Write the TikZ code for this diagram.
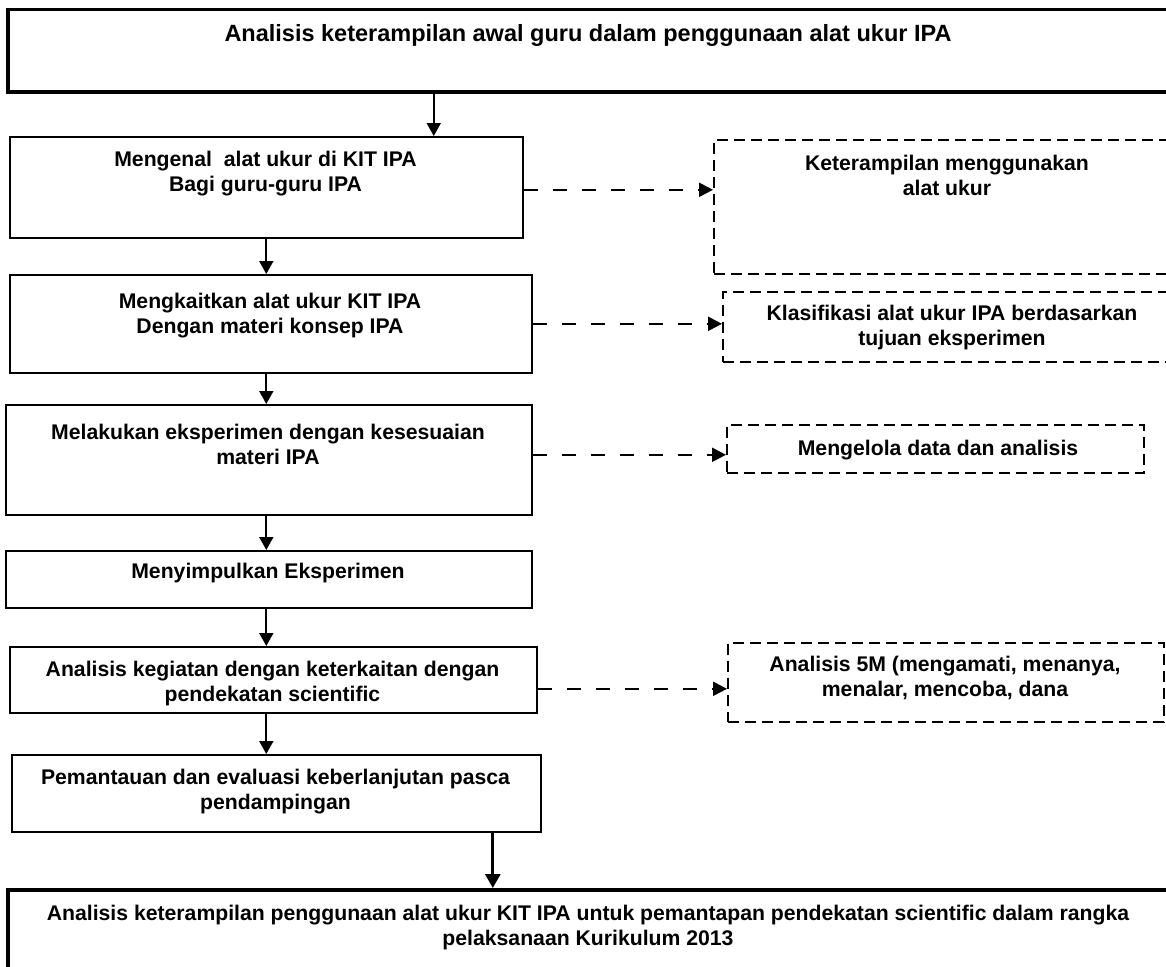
\documentclass[tikz,border=0pt]{standalone}
\usepackage{fontspec}
\setmainfont{Liberation Sans}
\usetikzlibrary{arrows.meta,calc}
\begin{document}
\begin{tikzpicture}[x=1pt,y=-1pt,
  solidbox/.style={draw,line width=1.6pt,inner sep=0,anchor=north west},
  thickbox/.style={draw,line width=3.5pt,inner sep=0,anchor=north west},
  dbox/.style={draw,line width=1.7pt,dash pattern=on 11pt off 6pt,inner sep=0,anchor=north west},
  txt/.style={font=\fontsize{21.2}{24.5}\selectfont\bfseries,align=center,inner sep=0,anchor=north},
  bigtxt/.style={font=\fontsize{23.5}{26}\selectfont\bfseries,align=center,inner sep=0,anchor=north},
  arr/.style={line width=1.7pt,-{Triangle[length=13pt,width=14pt]}},
  tarr/.style={line width=3pt,-{Triangle[length=14pt,width=15pt]}},
  darr/.style={line width=2.2pt,dash pattern=on 14pt off 15pt,-{Triangle[length=14pt,width=14pt]}}]
\useasboundingbox (0,0) rectangle (1166,966);

% boxes
\node[thickbox,minimum width=1170pt,minimum height=82pt] (top) at (6,8) {};
\node[solidbox,minimum width=513pt,minimum height=101pt] (b1) at (9,136) {};
\node[solidbox,minimum width=522pt,minimum height=98pt] (b2) at (9,274) {};
\node[solidbox,minimum width=526pt,minimum height=110pt] (b3) at (5,404) {};
\node[solidbox,minimum width=526pt,minimum height=57pt] (b4) at (5,550) {};
\node[solidbox,minimum width=527pt,minimum height=66pt] (b5) at (9,646) {};
\node[solidbox,minimum width=529pt,minimum height=77pt] (b6) at (11,754) {};
\node[thickbox,minimum width=1170pt,minimum height=92pt] (bot) at (6,888) {};

\node[dbox,minimum width=467pt,minimum height=134pt] (dA) at (713,139) {};
\node[dbox,minimum width=460pt,minimum height=70pt] (dB) at (722,291) {};
\node[dbox,minimum width=417pt,minimum height=48pt] (dC) at (726,424) {};
\node[dbox,minimum width=436pt,minimum height=79pt] (dD) at (727,642) {};

% texts
\node[bigtxt] (ttop) at (588,24) {Analisis keterampilan awal guru dalam penggunaan alat ukur IPA};
\node[txt] (t1) at (265.5,151) {Mengenal\ \ alat ukur di KIT IPA\\Bagi guru-guru IPA};
\node[txt] (t2) at (270,293) {Mengkaitkan alat ukur KIT IPA\\Dengan materi konsep IPA};
\node[txt] (t3) at (268,424) {Melakukan eksperimen dengan kesesuaian\\materi IPA};
\node[txt] (t4) at (268,563) {Menyimpulkan Eksperimen};
\node[txt] (t5) at (272.5,661) {Analisis kegiatan dengan keterkaitan dengan\\pendekatan scientific};
\node[txt] (t6) at (275.5,769) {Pemantauan dan evaluasi keberlanjutan pasca\\pendampingan};
\node[txt] (tbot) at (588,905) {Analisis keterampilan penggunaan alat ukur KIT IPA untuk pemantapan pendekatan scientific dalam rangka\\pelaksanaan Kurikulum 2013};
\node[txt] (tA) at (947,155) {Keterampilan menggunakan\\alat ukur};
\node[txt] (tB) at (952,305) {Klasifikasi alat ukur IPA berdasarkan\\tujuan eksperimen};
\node[txt] (tC) at (938,440) {Mengelola data dan analisis};
\node[txt] (tD) at (945,656) {Analisis 5M (mengamati, menanya,\\menalar, mencoba, dana};

% main flow
\draw[arr] ([xshift=-159pt]top.south) -- ([xshift=-159pt]top.south |- b1.north);
\draw[arr] (b1.south) -- (b1.south |- b2.north);
\draw[arr] (b2.south -| b1.south) -- (b3.north -| b1.south);
\draw[arr] (b3.south -| b1.south) -- (b4.north -| b1.south);
\draw[arr] (b4.south -| b1.south) -- (b5.north -| b1.south);
\draw[arr] (b5.south -| b1.south) -- (b6.north -| b1.south);
\draw[tarr] ([xshift=216.5pt]b6.south) -- ([xshift=216.5pt]b6.south |- bot.north);

% side links
\draw[darr] ([yshift=-2.5pt]b1.east) -- ([yshift=-2.5pt]b1.east -| dA.west);
\draw[darr] (b2.east) -- (b2.east -| dB.west);
\draw[darr] ([yshift=5pt]b3.east) -- ([yshift=5pt]b3.east -| dC.west);
\draw[darr] ([yshift=-9pt]b5.east) -- ([yshift=-9pt]b5.east -| dD.west);
\end{tikzpicture}
\end{document}
